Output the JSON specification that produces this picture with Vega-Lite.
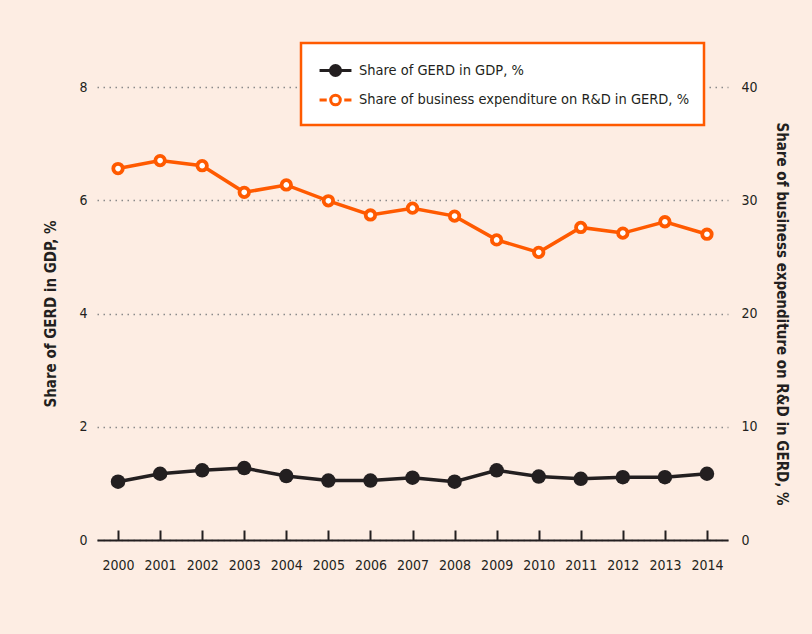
{
  "$schema": "https://vega.github.io/schema/vega-lite/v6.json",
  "width": 631,
  "height": 453,
  "autosize": "none",
  "padding": {"left": 97, "top": 87, "right": 84, "bottom": 94},
  "background": "#fdede3",
  "config": {
    "view": {"stroke": null},
    "font": "DejaVu Sans Condensed",
    "axis": {"labelFont": "DejaVu Sans Condensed", "titleFont": "DejaVu Sans Condensed", "labelColor": "#231f20", "titleColor": "#231f20", "labelFontSize": 14, "titleFontSize": 15, "titleFontWeight": "bold"},
    "legend": {"labelFont": "DejaVu Sans Condensed"}
  },
  "data": {
    "values": [
      {"year": 2000, "gdp": 1.03, "bus": 32.8},
      {"year": 2001, "gdp": 1.17, "bus": 33.5},
      {"year": 2002, "gdp": 1.23, "bus": 33.05},
      {"year": 2003, "gdp": 1.27, "bus": 30.7},
      {"year": 2004, "gdp": 1.13, "bus": 31.35},
      {"year": 2005, "gdp": 1.05, "bus": 29.95},
      {"year": 2006, "gdp": 1.05, "bus": 28.7},
      {"year": 2007, "gdp": 1.1, "bus": 29.3},
      {"year": 2008, "gdp": 1.03, "bus": 28.6},
      {"year": 2009, "gdp": 1.23, "bus": 26.5},
      {"year": 2010, "gdp": 1.12, "bus": 25.4},
      {"year": 2011, "gdp": 1.08, "bus": 27.6},
      {"year": 2012, "gdp": 1.11, "bus": 27.1},
      {"year": 2013, "gdp": 1.11, "bus": 28.1},
      {"year": 2014, "gdp": 1.17, "bus": 27.0}
    ]
  },
  "encoding": {
    "x": {
      "field": "year", "type": "quantitative",
      "scale": {"domain": [1999.5, 2014.5], "nice": false, "zero": false},
      "axis": {
        "title": null, "values": [2000,2001,2002,2003,2004,2005,2006,2007,2008,2009,2010,2011,2012,2013,2014],
        "format": "d", "grid": false, "domainColor": "#231f20", "domainWidth": 2,
        "tickColor": "#231f20", "tickWidth": 2, "tickSize": -10, "labelPadding": 28, "labelFlush": false
      }
    }
  },
  "layer": [
    {
      "encoding": {
        "y": {
          "field": "gdp", "type": "quantitative",
          "scale": {"domain": [0, 8], "nice": false},
          "axis": {
            "title": "Share of GERD in GDP, %", "values": [0,2,4,6,8], "grid": true,
            "gridDash": [1.5, 4.5], "gridColor": "#8a8a8a", "gridWidth": 1.5,
            "domain": false, "ticks": false, "labelPadding": 10, "titlePadding": 20
          }
        }
      },
      "layer": [
        {
          "mark": {"type": "line", "strokeWidth": 3.5},
          "encoding": {
            "color": {
              "datum": "Share of GERD in GDP, %",
              "scale": {"domain": ["Share of GERD in GDP, %", "Share of business expenditure on R&D in GERD, %"], "range": ["#231f20", "#ff5a00"]},
              "legend": {
                "orient": "none", "legendX": 204, "legendY": -44, "title": null, "direction": "vertical",
                "padding": 14, "symbolOffset": 7, "strokeColor": "#ff5a00", "fillColor": "white",
                "labelFontSize": 14.5, "labelColor": "#231f20", "labelOffset": 10, "labelLimit": 500,
                "symbolSize": 576, "symbolStrokeWidth": 3, "rowPadding": 4.5,
                "encode": {
                  "legend": {"update": {"strokeWidth": {"value": 2.5}}},
                  "symbols": {"update": {
                    "shape": {"signal": "datum.value === 'Share of GERD in GDP, %' ? 'M-1.33,0H-0.4M0.4,0H1.33M-0.42,0A0.42,0.42 0 1,1 0.42,0A0.42,0.42 0 1,1 -0.42,0Z' : 'M-1.33,0H-0.73M0.73,0H1.33M-0.4,0A0.4,0.4 0 1,1 0.4,0A0.4,0.4 0 1,1 -0.4,0Z'"},
                    "fill": {"signal": "datum.value === 'Share of GERD in GDP, %' ? '#231f20' : 'white'"},
                    "fillOpacity": {"value": 1}
                  }}
                }
              }
            }
          }
        },
        {
          "mark": {"type": "point", "filled": true, "size": 210, "color": "#231f20", "opacity": 1}
        }
      ]
    },
    {
      "encoding": {
        "y": {
          "field": "bus", "type": "quantitative",
          "scale": {"domain": [0, 40], "nice": false},
          "axis": {
            "title": "Share of business expenditure on R&D in GERD, %", "values": [0,10,20,30,40], "grid": false,
            "domain": false, "ticks": false, "labelPadding": 13, "titlePadding": 16, "orient": "right"
          }
        }
      },
      "layer": [
        {
          "mark": {"type": "line", "strokeWidth": 3.5},
          "encoding": {"color": {"datum": "Share of business expenditure on R&D in GERD, %"}}
        },
        {
          "mark": {"type": "point", "filled": false, "size": 90, "stroke": "#ff5a00", "fill": "white", "fillOpacity": 1, "strokeWidth": 3.8, "opacity": 1}
        }
      ]
    }
  ],
  "resolve": {"scale": {"y": "independent"}}
}
